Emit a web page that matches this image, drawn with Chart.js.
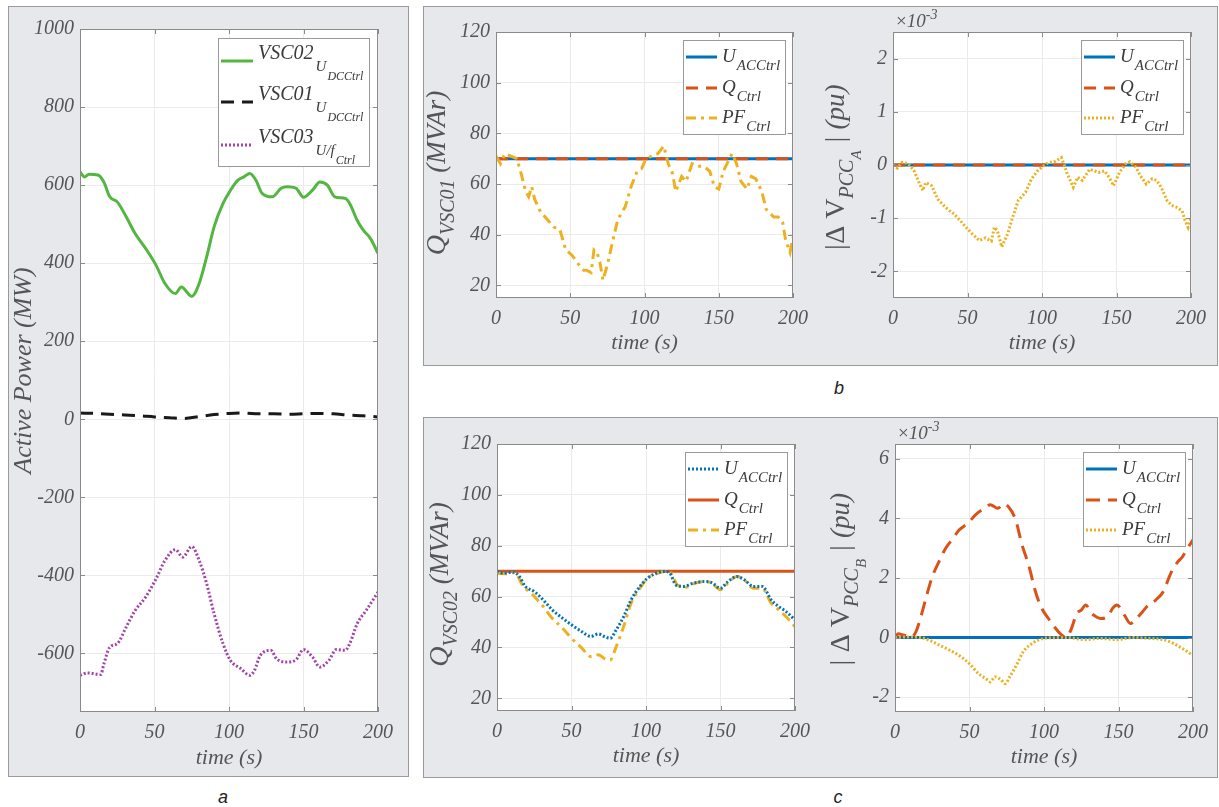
<!DOCTYPE html>
<html>
<head>
<meta charset="utf-8">
<script src="https://cdn.jsdelivr.net/npm/chart.js@4.4.0/dist/chart.umd.min.js"></script>
<style>
  body { margin: 0; width: 1219px; height: 807px; background: #fff; position: relative; overflow: hidden; }
  .box { position: absolute; background: #e6e8eb; border: 1px solid #9a9a9a; box-sizing: border-box; }
  .lab { position: absolute; font: italic 18px "Liberation Sans", Arial, sans-serif; color: #222; transform: translate(-50%, -50%); }
  .holder { position: absolute; }
</style>
</head>
<body>
<div class="box" style="left:8px;top:6px;width:401px;height:771px"></div>
<div class="box" style="left:423px;top:6px;width:795px;height:360px"></div>
<div class="box" style="left:423px;top:417px;width:795px;height:361px"></div>
<div class="lab" style="left:223px;top:797px">a</div>
<div class="lab" style="left:839px;top:388px">b</div>
<div class="lab" style="left:838px;top:797px">c</div>
<script>
'use strict';

// tick labels
const timeTicks = [0, 50, 100, 150, 200];
const yTicksP = [-600, -400, -200, 0, 200, 400, 600, 800, 1000];
const yTicksQ = [20, 40, 60, 80, 100, 120];
const yTicksVA = [-2, -1, 0, 1, 2];
const yTicksVB = [-2, 0, 2, 4, 6];

// panel a : active power (MW)
const tVsc02 = [0, 3, 6, 12, 16, 20, 25, 31, 37, 44, 51, 57, 64, 68, 75, 80, 85, 90, 96, 101, 106, 110, 114, 118, 122, 129, 135, 139, 145, 150, 156, 161, 166, 171, 178, 181, 186, 190, 195, 200];
const pVsc02 = [634, 621, 628, 626, 608, 570, 557, 519, 476, 438, 395, 348, 322, 339, 315, 348, 416, 493, 553, 587, 613, 621, 630, 613, 580, 570, 592, 596, 592, 569, 587, 608, 600, 570, 566, 553, 510, 485, 463, 425];
const tVsc01 = [0, 10, 20, 30, 40, 50, 60, 70, 80, 90, 100, 110, 120, 130, 140, 150, 160, 170, 180, 190, 200];
const pVsc01 = [16, 15, 13, 11, 9, 6, 4, 2, 7, 12, 15, 16, 14, 14, 13, 14, 15, 14, 11, 9, 6];
const tVsc03 = [0, 5, 14, 16, 20, 25, 31, 37, 44, 51, 57, 64, 69, 75, 80, 85, 90, 96, 101, 108, 114, 117, 121, 128, 132, 139, 145, 150, 156, 161, 167, 172, 178, 181, 186, 192, 200];
const pVsc03 = [-656, -650, -654, -627, -584, -575, -532, -490, -456, -409, -362, -334, -353, -326, -362, -421, -498, -575, -618, -639, -656, -644, -605, -592, -614, -622, -616, -590, -609, -635, -618, -590, -592, -575, -524, -490, -443];

// panel b : VSC01 reactive power (MVAr) and PCC A voltage deviation (x1e-3 pu)
const tFlat = [0, 200];
const qB_uac = [70, 70];
const qB_q = [70, 70];
const tB_pf = [0, 3, 6, 10, 14, 17, 20, 22, 24, 26, 30, 36, 39, 43, 45, 47, 51, 56, 59, 61, 64, 66, 68, 70, 72, 75, 78, 82, 87, 91, 95, 98, 101, 105, 109, 113, 116, 119, 121, 125, 128, 132, 136, 139, 142, 144, 147, 150, 153, 159, 162, 165, 169, 172, 175, 179, 182, 187, 190, 193, 195, 198, 200];
const qB_pf = [71, 68, 72, 71, 70, 64, 57, 55, 59, 54, 49, 45, 43, 42, 38, 34, 32, 28, 26, 26, 25, 34, 33, 29, 22, 28, 36, 46, 51, 59, 65, 66, 70, 71, 72, 75, 68, 64, 57, 63, 61, 68, 67, 67, 66, 65, 59, 58, 65, 72, 68, 61, 58, 63, 62, 57, 50, 47, 47, 45, 38, 33, 39];
const dvA_uac = [0, 0];
const dvA_q = [0, 0];
const tA_pf = [0, 3, 6, 10, 14, 17, 20, 22, 26, 30, 35, 38, 41, 45, 49, 53, 58, 62, 66, 68, 70, 73, 77, 80, 84, 89, 93, 97, 100, 104, 109, 113, 115, 117, 121, 124, 127, 132, 135, 138, 142, 145, 148, 152, 156, 159, 163, 166, 170, 174, 177, 180, 184, 187, 190, 194, 196, 198, 200];
const dvA_pf = [0, -0.06, 0.05, 0.03, -0.1, -0.3, -0.48, -0.33, -0.39, -0.64, -0.79, -0.86, -0.92, -1.04, -1.17, -1.29, -1.42, -1.37, -1.43, -1.17, -1.23, -1.54, -1.29, -1.01, -0.67, -0.51, -0.26, -0.11, -0.04, 0.04, 0.07, 0.14, -0.01, -0.17, -0.42, -0.23, -0.29, -0.08, -0.11, -0.14, -0.11, -0.23, -0.39, -0.14, 0.02, 0.06, -0.04, -0.2, -0.36, -0.26, -0.29, -0.42, -0.67, -0.76, -0.79, -0.86, -1.04, -1.17, -0.98];

// panel c : VSC02 reactive power (MVAr) and PCC B voltage deviation (x1e-3 pu)
const tC_uac = [0, 4, 11, 15, 19, 25, 31, 37, 44, 50, 57, 63, 68, 72, 76, 80, 85, 90, 96, 101, 107, 112, 116, 120, 125, 132, 139, 144, 150, 155, 161, 166, 172, 178, 184, 189, 194, 200];
const qC_uac = [70, 69.2, 69.6, 67.9, 64, 62, 58.7, 54.8, 51.5, 48.9, 46.2, 44.3, 45.3, 44.3, 43.6, 46.9, 52.1, 58.7, 64, 67.2, 69.2, 69.9, 69.2, 64.6, 64, 65.3, 65.9, 65.5, 63.3, 65.9, 67.9, 66.6, 64, 64, 58.7, 56.1, 54.1, 50.8];
const qC_q = [70, 70];
const tC_pf = [0, 6, 12, 17, 24, 31, 37, 44, 50, 57, 63, 68, 72, 76, 80, 85, 90, 96, 101, 107, 113, 117, 121, 127, 133, 139, 144, 150, 155, 161, 166, 172, 178, 184, 189, 195, 200];
const qC_pf = [69.2, 69, 69.5, 64.6, 60.7, 56.1, 51.5, 47.6, 43.6, 39.7, 36.4, 37.1, 35.7, 35.1, 40.3, 48.2, 57.4, 63.3, 67.2, 69, 69.9, 69.2, 64.6, 63.7, 65.3, 65.9, 65.3, 62.7, 65.3, 67.9, 66.6, 63.3, 63.3, 57.4, 54.8, 51.5, 48.2];
const dvB_uac = [0, 0];
const tB2_q = [0, 2, 6, 11, 14, 18, 21, 25, 30, 34, 39, 43, 49, 54, 60, 64, 69, 73, 76, 81, 85, 90, 94, 98, 103, 107, 112, 115, 118, 122, 125, 128, 132, 135, 138, 143, 146, 149, 154, 158, 162, 166, 170, 175, 180, 185, 189, 193, 197, 200];
const dvB_q = [-0.03, 0.13, 0.08, 0.02, 0.19, 0.81, 1.37, 2.04, 2.6, 3.0, 3.33, 3.61, 3.84, 4.12, 4.34, 4.46, 4.34, 4.49, 4.4, 3.95, 3.16, 2.38, 1.59, 1.03, 0.64, 0.36, 0.08, 0.02, 0.25, 0.81, 0.92, 1.09, 0.81, 0.7, 0.64, 0.72, 0.98, 1.09, 0.75, 0.47, 0.64, 0.86, 1.09, 1.26, 1.54, 2.15, 2.49, 2.72, 3.05, 3.28];
const tB2_pf = [0, 8, 17, 23, 30, 37, 43, 50, 56, 61, 64, 67, 71, 74, 77, 82, 86, 92, 97, 103, 116, 127, 138, 149, 160, 171, 180, 187, 193, 200];
const dvB_pf = [0, 0.02, 0, -0.09, -0.26, -0.43, -0.6, -0.88, -1.21, -1.38, -1.49, -1.32, -1.41, -1.55, -1.32, -0.88, -0.48, -0.2, -0.07, -0.01, 0, -0.07, -0.03, -0.07, 0, -0.03, -0.07, -0.2, -0.37, -0.6];

const BLUE = '#0072bd';
const ORANGE = '#d95319';
const YELLOW = '#edb120';
const GREEN = '#52b640';
const PURPLE = '#a244a8';
const SERIF = '"Liberation Serif", "DejaVu Serif", serif';
const TXT = '#555';


function pts(t, v) {
  return t.map((x, i) => ({ x: x, y: v[i] }));
}

function line(label, t, v, color, dash, order, smooth) {
  return {
    label: label,
    data: pts(t, v),
    borderColor: color,
    borderDash: dash,
    borderWidth: 3,
    pointRadius: 0,
    fill: false,
    tension: smooth ? 0.4 : 0,
    cubicInterpolationMode: smooth ? 'monotone' : 'default',
    order: order
  };
}

function fnt(s) {
  return (s.up ? '' : 'italic ') + s.size + 'px ' + SERIF;
}

function richWidth(ctx, segs) {
  let w = 0;
  segs.forEach(s => { ctx.font = fnt(s); w += ctx.measureText(s.t).width + (s.dx || 0); });
  return w;
}

function drawRich(ctx, x, y, segs) {
  segs.forEach(s => {
    ctx.font = fnt(s);
    x += s.dx || 0;
    ctx.fillText(s.t, x, y + (s.dy || 0));
    x += ctx.measureText(s.t).width;
  });
}

// white plot area, frame, inward ticks, legend with subscripts, axis titles
const decor = {
  id: 'decor',
  beforeDraw(chart) {
    const ctx = chart.ctx, a = chart.chartArea;
    ctx.save();
    ctx.fillStyle = '#fff';
    ctx.fillRect(a.left, a.top, a.right - a.left, a.bottom - a.top);
    ctx.restore();
  },
  afterDatasetsDraw(chart) {
    const ctx = chart.ctx, a = chart.chartArea;
    const xs = chart.scales.x, ys = chart.scales.y;
    ctx.save();
    ctx.strokeStyle = '#8a8a8a';
    ctx.lineWidth = 1;
    ctx.strokeRect(a.left + 0.5, a.top + 0.5, a.right - a.left - 1, a.bottom - a.top - 1);
    ctx.beginPath();
    xs.ticks.forEach(tk => {
      const px = Math.round(xs.getPixelForValue(tk.value)) + 0.5;
      ctx.moveTo(px, a.bottom); ctx.lineTo(px, a.bottom - 5);
      ctx.moveTo(px, a.top); ctx.lineTo(px, a.top + 5);
    });
    ys.ticks.forEach(tk => {
      const py = Math.round(ys.getPixelForValue(tk.value)) + 0.5;
      ctx.moveTo(a.left, py); ctx.lineTo(a.left + 5, py);
      ctx.moveTo(a.right, py); ctx.lineTo(a.right - 5, py);
    });
    ctx.stroke();
    ctx.restore();
  },
  afterDraw(chart, args, o) {
    const ctx = chart.ctx, a = chart.chartArea;
    ctx.save();
    ctx.textAlign = 'left';
    ctx.textBaseline = 'alphabetic';

    // legend
    const L = o.legend;
    const x0 = Math.round(a.right - L.inset - L.w), y0 = Math.round(a.top + L.inset);
    ctx.fillStyle = '#fff';
    ctx.fillRect(x0, y0, L.w, L.h);
    ctx.strokeStyle = '#9a9a9a';
    ctx.lineWidth = 1;
    ctx.strokeRect(x0 + 0.5, y0 + 0.5, L.w, L.h);
    L.rows.forEach((r, i) => {
      const ds = chart.data.datasets[r.ds];
      const y = y0 + L.rowY[i];
      ctx.save();
      ctx.strokeStyle = ds.borderColor;
      ctx.lineWidth = ds.borderWidth;
      ctx.setLineDash(ds.borderDash || []);
      ctx.beginPath();
      ctx.moveTo(x0 + 3, y);
      ctx.lineTo(x0 + 3 + L.sample, y);
      ctx.stroke();
      ctx.restore();
      ctx.fillStyle = '#3a3a3a';
      drawRich(ctx, x0 + L.textX, y + L.base, r.segs);
    });

    // y title (rotated)
    const T = o.ytitle;
    ctx.save();
    ctx.translate(a.left - T.dx, (a.top + a.bottom) / 2 + T.dy);
    ctx.rotate(-Math.PI / 2);
    ctx.fillStyle = TXT;
    const w = richWidth(ctx, T.segs);
    drawRich(ctx, -w / 2, T.segs[0].size * 0.35, T.segs);
    ctx.restore();

    // x title
    ctx.fillStyle = TXT;
    ctx.textAlign = 'center';
    ctx.textBaseline = 'middle';
    ctx.font = 'italic 22px ' + SERIF;
    ctx.fillText('time (s)', (a.left + a.right) / 2, a.bottom + o.xtitleY);

    // exponent
    if (o.exp) {
      ctx.textAlign = 'left';
      ctx.textBaseline = 'alphabetic';
      drawRich(ctx, a.left + 3, a.top - 5, [{ t: '×', size: 19, up: true }, { t: '10', size: 19 }, { t: '-3', size: 14, dy: -8 }]);
    }
    ctx.restore();
  }
};

function makeChart(rect, datasets, yMin, yMax, yTicks, decorOpts) {
  const holder = document.createElement('div');
  holder.className = 'holder';
  holder.style.left = (rect.L - 75) + 'px';
  holder.style.top = (rect.T - 25) + 'px';
  const canvas = document.createElement('canvas');
  canvas.width = rect.R - rect.L + 95;
  canvas.height = rect.B - rect.T + 90;
  holder.appendChild(canvas);
  document.body.appendChild(holder);

  const tickFont = { family: SERIF, size: 20, style: 'italic' };
  return new Chart(canvas, {
    type: 'line',
    data: { datasets: datasets },
    options: {
      responsive: false,
      animation: false,
      devicePixelRatio: 1,
      layout: { padding: { left: 0, top: 25, right: 20, bottom: 0 } },
      scales: {
        x: {
          type: 'linear',
          min: 0,
          max: 200,
          afterBuildTicks: s => { s.ticks = timeTicks.map(v => ({ value: v })); },
          afterFit: s => { s.height = 65; },
          grid: { color: '#ebebeb', drawTicks: false },
          border: { display: false },
          ticks: { font: tickFont, color: TXT, padding: 9, maxRotation: 0, callback: v => String(v) }
        },
        y: {
          min: yMin,
          max: yMax,
          afterBuildTicks: s => { s.ticks = yTicks.map(v => ({ value: v })); },
          afterFit: s => { s.width = 75; },
          grid: { color: '#ebebeb', drawTicks: false },
          border: { display: false },
          ticks: { font: tickFont, color: TXT, padding: 6, callback: v => String(v) }
        }
      },
      plugins: {
        legend: { display: false },
        tooltip: { enabled: false },
        decor: decorOpts
      }
    },
    plugins: [decor]
  });
}

function smallLegend() {
  return {
    inset: 8, w: 102, h: 94, rowY: [17, 48, 78], sample: 31, textX: 39, base: 5,
    rows: [
      { ds: 0, segs: [{ t: 'U', size: 19 }, { t: 'ACCtrl', size: 15, dy: 8, dx: 1 }] },
      { ds: 1, segs: [{ t: 'Q', size: 19 }, { t: 'Ctrl', size: 15, dy: 8, dx: 1 }] },
      { ds: 2, segs: [{ t: 'PF', size: 19 }, { t: 'Ctrl', size: 15, dy: 8, dx: 1 }] }
    ]
  };
}

// panel a
makeChart({ L: 80, T: 29, R: 382, B: 712 }, [
  line('VSC02 U_DCCtrl', tVsc02, pVsc02, GREEN, [], 1, true),
  line('VSC01 U_DCCtrl', tVsc01, pVsc01, '#1a1a1a', [13, 8], 2, true),
  line('VSC03 U/f_Ctrl', tVsc03, pVsc03, PURPLE, [2, 2], 3, true)
], -750, 1000, yTicksP, {
  legend: {
    inset: 9, w: 151, h: 128, rowY: [23, 64, 107], sample: 32, textX: 40, base: -2,
    rows: [
      { ds: 0, segs: [{ t: 'VSC02', size: 20 }, { t: 'U', size: 15, dy: 12, dx: 2 }, { t: 'DCCtrl', size: 12, dy: 21, dx: 1 }] },
      { ds: 1, segs: [{ t: 'VSC01', size: 20 }, { t: 'U', size: 15, dy: 12, dx: 2 }, { t: 'DCCtrl', size: 12, dy: 21, dx: 1 }] },
      { ds: 2, segs: [{ t: 'VSC03', size: 20 }, { t: 'U/f', size: 15, dy: 12, dx: 2 }, { t: 'Ctrl', size: 12, dy: 21, dx: 1 }] }
    ]
  },
  ytitle: { dx: 58, dy: 0, segs: [{ t: 'Active Power (MW)', size: 26 }] },
  xtitleY: 46,
  exp: false
});

// panel b, left
makeChart({ L: 496, T: 32, R: 797, B: 298 }, [
  line('U_ACCtrl', tFlat, qB_uac, BLUE, [], 3, false),
  line('Q_Ctrl', tFlat, qB_q, ORANGE, [12, 8], 2, false),
  line('PF_Ctrl', tB_pf, qB_pf, YELLOW, [10, 5, 3, 5], 1, false)
], 15, 120, yTicksQ, {
  legend: smallLegend(),
  ytitle: { dx: 61, dy: 8, segs: [{ t: 'Q', size: 28 }, { t: 'VSC01', size: 20, dy: 9 }, { t: ' (MVAr)', size: 27 }] },
  xtitleY: 45,
  exp: false
});

// panel b, right
makeChart({ L: 893, T: 32, R: 1195, B: 298 }, [
  line('U_ACCtrl', tFlat, dvA_uac, BLUE, [], 3, false),
  line('Q_Ctrl', tFlat, dvA_q, ORANGE, [12, 8], 2, false),
  line('PF_Ctrl', tA_pf, dvA_pf, YELLOW, [2, 2], 1, false)
], -2.5, 2.5, yTicksVA, {
  legend: smallLegend(),
  ytitle: { dx: 59, dy: 3, segs: [{ t: '|', size: 28 }, { t: 'Δ V', size: 28, up: true }, { t: 'PCC', size: 20, dy: 9 }, { t: 'A', size: 15, dy: 17 }, { t: ' | (pu)', size: 27 }] },
  xtitleY: 45,
  exp: true
});

// panel c, left
makeChart({ L: 497, T: 444, R: 799, B: 711 }, [
  line('U_ACCtrl', tC_uac, qC_uac, BLUE, [2, 2], 1, true),
  line('Q_Ctrl', tFlat, qC_q, ORANGE, [], 3, false),
  line('PF_Ctrl', tC_pf, qC_pf, YELLOW, [10, 5, 3, 5], 2, true)
], 15, 120, yTicksQ, {
  legend: smallLegend(),
  ytitle: { dx: 59, dy: 7, segs: [{ t: 'Q', size: 28 }, { t: 'VSC02', size: 20, dy: 9 }, { t: ' (MVAr)', size: 27 }] },
  xtitleY: 45,
  exp: false
});

// panel c, right
makeChart({ L: 895, T: 444, R: 1197, B: 712 }, [
  line('U_ACCtrl', tFlat, dvB_uac, BLUE, [], 3, false),
  line('Q_Ctrl', tB2_q, dvB_q, ORANGE, [14, 8], 2, true),
  line('PF_Ctrl', tB2_pf, dvB_pf, YELLOW, [2, 2], 1, true)
], -2.5, 6.5, yTicksVB, {
  legend: smallLegend(),
  ytitle: { dx: 56, dy: 2, segs: [{ t: '| ', size: 28 }, { t: 'Δ V', size: 28, up: true }, { t: 'PCC', size: 20, dy: 9 }, { t: 'B', size: 15, dy: 17 }, { t: ' | (pu)', size: 27 }] },
  xtitleY: 45,
  exp: true
});
</script>
</body>
</html>
